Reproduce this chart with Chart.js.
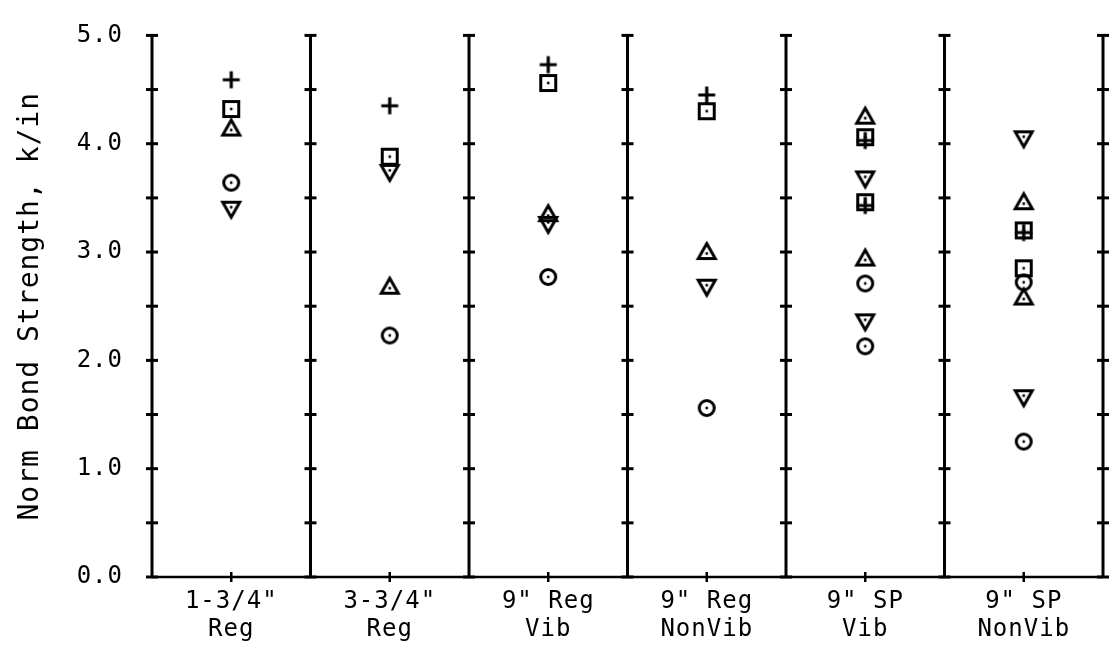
<!DOCTYPE html>
<html lang="en">
<head>
    <meta charset="UTF-8">
    <title>Norm Bond Strength</title>
    <style>
        html, body { margin: 0; padding: 0; background: #fff; }
        #wrap { width: 1117px; height: 662px; }
    </style>
    <script src="https://cdn.jsdelivr.net/npm/chart.js"></script>
</head>
<body>
<div id="wrap"><canvas id="chart" width="1117" height="662"></canvas></div>
<script>
    // categories (bar groups along x)
    const categories = [
        ['1-3/4"', 'Reg'],
        ['3-3/4"', 'Reg'],
        ['9" Reg', 'Vib'],
        ['9" Reg', 'NonVib'],
        ['9" SP', 'Vib'],
        ['9" SP', 'NonVib']
    ];
    const yTicks = [0, 1, 2, 3, 4, 5];

    // values, k/in (second list = second specimen, null when none)
    const plusA     = [4.59, 4.35, 4.73, 4.45, 4.03, 3.18];
    const plusB     = [null, null, null, null, 3.43, null];
    const squareA   = [4.32, 3.88, 4.56, 4.30, 4.06, 3.20];
    const squareB   = [null, null, null, null, 3.46, 2.85];
    const triUpA    = [4.14, 2.68, 3.35, 3.00, 4.25, 3.46];
    const triUpB    = [null, null, null, null, 2.94, 2.58];
    const circleA   = [3.64, 2.23, 2.77, 1.56, 2.71, 2.72];
    const circleB   = [null, null, null, null, 2.13, 1.25];
    const triDownA  = [3.40, 3.74, 3.26, 2.68, 3.68, 4.05];
    const triDownB  = [null, null, null, null, 2.36, 1.66];

    const FONT = "'DejaVu Sans Mono', 'Liberation Mono', monospace";

    // marker pictures with the centre dot, like the plotter symbols
    function marker(kind) {
        const s = 24;
        const c = document.createElement('canvas');
        c.width = s; c.height = s;
        const g = c.getContext('2d');
        g.strokeStyle = '#000';
        g.fillStyle = '#000';
        g.lineWidth = 3;
        const m = s / 2;
        let dotY = m;
        g.beginPath();
        if (kind === 'square') {
            g.rect(m - 7.5, m - 7.5, 15, 15);
        } else if (kind === 'circle') {
            g.arc(m, m, 7.5, 0, Math.PI * 2);
        } else if (kind === 'up') {
            g.moveTo(m, m - 8.5); g.lineTo(m + 8.5, m + 6.5); g.lineTo(m - 8.5, m + 6.5); g.closePath();
            dotY = m + 1.5;
        } else if (kind === 'down') {
            g.moveTo(m, m + 8.5); g.lineTo(m + 8.5, m - 6.5); g.lineTo(m - 8.5, m - 6.5); g.closePath();
            dotY = m - 1.5;
        } else if (kind === 'plus') {
            g.lineWidth = 3.2;
            g.moveTo(m - 8.5, m); g.lineTo(m + 8.5, m);
            g.moveTo(m, m - 8.5); g.lineTo(m, m + 8.5);
        }
        g.stroke();
        if (kind !== 'plus') {
            g.beginPath();
            g.arc(m, dotY, 1.4, 0, Math.PI * 2);
            g.fill();
        }
        return c;
    }

    function pts(vals) {
        const out = [];
        vals.forEach((v, i) => { if (v !== null) out.push({ x: i + 0.5, y: v }); });
        return out;
    }

    function ds(label, vals, kind) {
        return {
            label: label,
            data: pts(vals),
            pointStyle: marker(kind),
            pointRadius: 9,
            showLine: false
        };
    }

    // axes frame: dividers with crossing ticks every 0.5, bottom axis ticks
    const framePlugin = {
        id: 'frame',
        beforeDraw(chart) {
            chart.ctx.letterSpacing = '1px';
        },
        afterDraw(chart) {
            const ctx = chart.ctx;
            const xs = chart.scales.x;
            const ys = chart.scales.y;
            ctx.save();
            ctx.strokeStyle = '#000';
            ctx.lineWidth = 3;
            ctx.lineCap = 'butt';
            const y0 = ys.getPixelForValue(0);
            const y5 = ys.getPixelForValue(5);
            for (let i = 0; i <= categories.length; i++) {
                const px = xs.getPixelForValue(i);
                ctx.beginPath();
                ctx.moveTo(px, y0);
                ctx.lineTo(px, y5);
                ctx.stroke();
                for (let v = 0; v <= 5.001; v += 0.5) {
                    const py = ys.getPixelForValue(v);
                    ctx.beginPath();
                    ctx.moveTo(px - 6, py);
                    ctx.lineTo(px + 6, py);
                    ctx.stroke();
                }
            }
            ctx.lineWidth = 2.5;
            ctx.beginPath();
            ctx.moveTo(xs.getPixelForValue(0), y0);
            ctx.lineTo(xs.getPixelForValue(categories.length), y0);
            ctx.stroke();
            for (let v = 0.5; v < categories.length; v += 1) {
                const px = xs.getPixelForValue(v);
                ctx.beginPath();
                ctx.moveTo(px, y0 - 5);
                ctx.lineTo(px, y0 + 5);
                ctx.stroke();
            }
            ctx.restore();
        }
    };

    const ctx = document.getElementById('chart').getContext('2d');
    const chart = new Chart(ctx, {
        type: 'scatter',
        data: {
            datasets: [
                ds('plus', plusA, 'plus'),
                ds('plus 2', plusB, 'plus'),
                ds('square', squareA, 'square'),
                ds('square 2', squareB, 'square'),
                ds('triangle', triUpA, 'up'),
                ds('triangle 2', triUpB, 'up'),
                ds('circle', circleA, 'circle'),
                ds('circle 2', circleB, 'circle'),
                ds('inv triangle', triDownA, 'down'),
                ds('inv triangle 2', triDownB, 'down')
            ]
        },
        options: {
            responsive: false,
            animation: false,
            layout: { padding: { top: 24, right: 14, left: 0, bottom: 0 } },
            plugins: {
                legend: { display: false },
                tooltip: { enabled: false }
            },
            scales: {
                x: {
                    type: 'linear',
                    min: 0,
                    max: categories.length,
                    grid: { display: false },
                    border: { display: false },
                    afterBuildTicks(scale) {
                        scale.ticks = categories.map((c, i) => ({ value: i + 0.5 }));
                    },
                    afterFit(scale) { scale.height = 85; },
                    ticks: {
                        autoSkip: false,
                        maxRotation: 0,
                        padding: 3,
                        color: '#000',
                        font: { family: FONT, size: 24, lineHeight: 1.15 },
                        callback: (v) => categories[Math.floor(v)]
                    }
                },
                y: {
                    min: 0,
                    max: 5,
                    grid: { display: false },
                    border: { display: false },
                    afterBuildTicks(scale) {
                        scale.ticks = yTicks.map(v => ({ value: v }));
                    },
                    afterFit(scale) { scale.width = 152; },
                    ticks: {
                        padding: 21,
                        color: '#000',
                        font: { family: FONT, size: 24 },
                        callback: (v) => v.toFixed(1)
                    },
                    title: {
                        display: true,
                        text: 'Norm Bond Strength, k/in',
                        color: '#000',
                        font: { family: FONT, size: 28 },
                        padding: { top: 14, bottom: 0 }
                    }
                }
            }
        },
        plugins: [framePlugin]
    });
</script>
</body>
</html>
